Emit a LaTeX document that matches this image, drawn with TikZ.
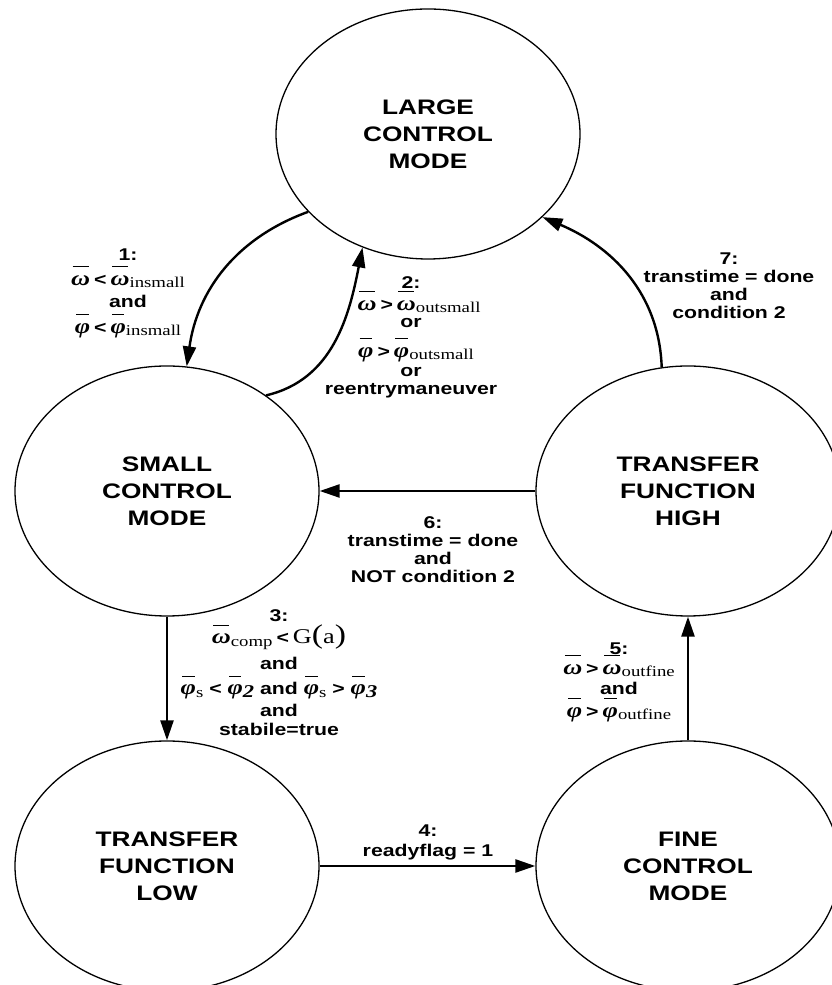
\documentclass[tikz,border=0pt]{standalone}
\usepackage{fontspec}
\setmainfont{Liberation Sans}[FakeStretch=1.25]
\newfontfamily\tms{Liberation Serif}[FakeStretch=1.25]
\usetikzlibrary{shapes.geometric,arrows.meta}

% Greek symbols in bold italic serif, with raised bars and lowered serif indices
\newsavebox\gbox
\newcommand\gk[1]{{\tms\bfseries\itshape\fontsize{21}{21}\selectfont #1}}
\newcommand\ovl[1]{\sbox\gbox{#1}\rlap{\hspace{1.5pt}\raisebox{18pt}[0pt][0pt]{\rule{\dimexpr\wd\gbox-3pt\relax}{0.8pt}}}\usebox\gbox}
\newcommand\Wb{\ovl{\gk{ω}}}
\newcommand\Pb{\ovl{\gk{φ}}}
\newcommand\sbs[1]{\raisebox{-2.5pt}{\tms\mdseries\upshape\fontsize{15}{15}\selectfont #1}}
\newcommand\sbn[1]{\raisebox{-3pt}{\tms\bfseries\itshape\fontsize{18}{18}\selectfont #1}}
\newcommand\Gfun{{\tms\mdseries\upshape\fontsize{21}{21}\selectfont G{\fontsize{27}{27}\selectfont(}a{\fontsize{27}{27}\selectfont)}}}
\newcommand\rel[1]{\hspace{4pt}#1\hspace{4pt}}

\tikzset{
  state/.style={ellipse, draw, line width=1.3pt, minimum width=304pt,
    minimum height=250pt, inner sep=0pt, align=center,
    font=\fontsize{21}{27}\selectfont\bfseries},
  trans/.style={line width=2.4pt, -{Triangle[length=20pt,width=13pt]}},
  lbl/.style={font=\fontsize{17}{18}\selectfont\bfseries, align=center, inner sep=0pt}
}

\begin{document}
\begin{tikzpicture}[x=1pt,y=1pt]
\useasboundingbox (0,0) rectangle (832,985);

% states
\node[state] (large) at (428,851) {LARGE\\CONTROL\\MODE};
\node[state] (small) at (167,494) {SMALL\\CONTROL\\MODE};
\node[state] (high)  at (688,494) {TRANSFER\\FUNCTION\\HIGH};
\node[state] (low)   at (167,119) {TRANSFER\\FUNCTION\\LOW};
\node[state] (fine)  at (688,119) {FINE\\CONTROL\\MODE};

% transitions
\draw[trans] (large.213) to[out=200,in=82] (small.81);
\draw[trans] (small.44) to[out=13,in=259] (large.240);
\draw[trans] (small.south) -- (low.north);
\draw[trans] (low.east) -- (fine.west);
\draw[trans] (fine.north) -- (high.south);
\draw[trans] (high.west) -- (small.east);
\draw[trans] (high.102) to[out=92,in=337] (large.324);

% transition conditions
\node[lbl] (c1) at (128,692) {1:\\[7pt] \Wb\rel{<}\Wb\sbs{insmall}\\[4pt] and\\[8pt] \Pb\rel{<}\Pb\sbs{insmall}};
\node[lbl] (c2) at (411,648) {2:\\[4pt] \hspace*{16pt}\Wb\rel{>}\Wb\sbs{outsmall}\\[-1pt] or\\[12pt] \hspace*{10pt}\Pb\rel{>}\Pb\sbs{outsmall}\\[1pt] or\\ reentrymaneuver};
\node[lbl] (c3) at (279,312) {3:\\[2pt] \Wb\sbs{comp}\rel{<}\Gfun\\[7pt] and\\[7pt] \Pb\sbs{s} < \Pb\sbn{2} and \Pb\sbs{s} > \Pb\sbn{3}\\[4pt] and\\[1pt] stabile=true};
\node[lbl] (c4) at (428,143) {4:\\[2pt] readyflag = 1};
\node[lbl] (c5) at (619,303) {5:\\[2pt] \Wb\rel{>}\Wb\sbs{outfine}\\[2pt] and\\[5pt] \Pb\rel{>}\Pb\sbs{outfine}};
\node[lbl] (c6) at (433,435) {6:\\ transtime = done\\ and\\ NOT condition 2};
\node[lbl] (c7) at (729,699) {7:\\ transtime = done\\ and\\ condition 2};
\end{tikzpicture}
\end{document}
